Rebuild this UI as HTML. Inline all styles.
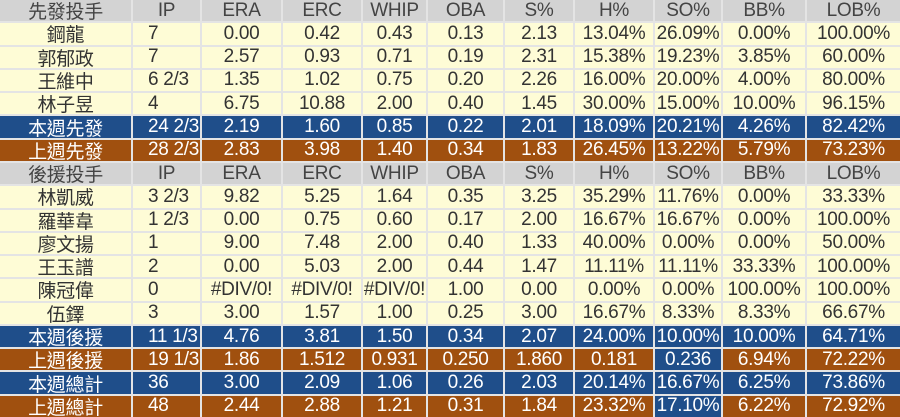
<!DOCTYPE html>
<html><head><meta charset="utf-8"><style>
html,body{margin:0;padding:0;background:#fff;}
.g{display:grid;width:900px;height:417px;overflow:hidden;background:#e4e4e4;gap:2px;grid-template-columns:131px 67px 79px 78px 63px 75px 68px 78px 66px 82px 93px;grid-template-rows:repeat(18,1fr);font-family:"Liberation Sans","Noto Sans CJK TC",sans-serif;font-size:19px;}
.g div{display:flex;align-items:center;justify-content:center;color:#333;white-space:nowrap;overflow:hidden;letter-spacing:-0.3px;}
.h{background:#d3d3d3;color:#444!important;}
.y{background:#fefcd6;}
.b{background:#1f4e8a;color:#fff!important;}
.o{background:#a0500f;color:#fff!important;}
.g div.ip{justify-content:flex-start;padding-left:15px;}
</style></head><body>
<div class="g" id="g"></div>
<script>
var rows=[
["h","先發投手","IP","ERA","ERC","WHIP","OBA","S%","H%","SO%","BB%","LOB%"],
["y","鋼龍","7","0.00","0.42","0.43","0.13","2.13","13.04%","26.09%","0.00%","100.00%"],
["y","郭郁政","7","2.57","0.93","0.71","0.19","2.31","15.38%","19.23%","3.85%","60.00%"],
["y","王維中","6 2/3","1.35","1.02","0.75","0.20","2.26","16.00%","20.00%","4.00%","80.00%"],
["y","林子昱","4","6.75","10.88","2.00","0.40","1.45","30.00%","15.00%","10.00%","96.15%"],
["b","本週先發","24 2/3","2.19","1.60","0.85","0.22","2.01","18.09%","20.21%","4.26%","82.42%"],
["o","上週先發","28 2/3","2.83","3.98","1.40","0.34","1.83","26.45%","13.22%","5.79%","73.23%"],
["h","後援投手","IP","ERA","ERC","WHIP","OBA","S%","H%","SO%","BB%","LOB%"],
["y","林凱威","3 2/3","9.82","5.25","1.64","0.35","3.25","35.29%","11.76%","0.00%","33.33%"],
["y","羅華韋","1 2/3","0.00","0.75","0.60","0.17","2.00","16.67%","16.67%","0.00%","100.00%"],
["y","廖文揚","1","9.00","7.48","2.00","0.40","1.33","40.00%","0.00%","0.00%","50.00%"],
["y","王玉譜","2","0.00","5.03","2.00","0.44","1.47","11.11%","11.11%","33.33%","100.00%"],
["y","陳冠偉","0","#DIV/0!","#DIV/0!","#DIV/0!","1.00","0.00","0.00%","0.00%","100.00%","100.00%"],
["y","伍鐸","3","3.00","1.57","1.00","0.25","3.00","16.67%","8.33%","8.33%","66.67%"],
["b","本週後援","11 1/3","4.76","3.81","1.50","0.34","2.07","24.00%","10.00%","10.00%","64.71%"],
["o","上週後援","19 1/3","1.86","1.512","0.931","0.250","1.860","0.181","0.236","6.94%","72.22%"],
["b","本週總計","36","3.00","2.09","1.06","0.26","2.03","20.14%","16.67%","6.25%","73.86%"],
["o","上週總計","48","2.44","2.88","1.21","0.31","1.84","23.32%","17.10%","6.22%","72.92%"]];
var g=document.getElementById("g"),h="";
rows.forEach(function(r,ri){for(var i=1;i<r.length;i++){var c=r[0];if(i==9&&(ri==15||ri==17))c="b";var ip=(i==2&&r[0]!="h")?" ip":"";h+='<div class="'+c+ip+'">'+r[i]+'</div>';}});
g.innerHTML=h;
</script>
</body></html>
